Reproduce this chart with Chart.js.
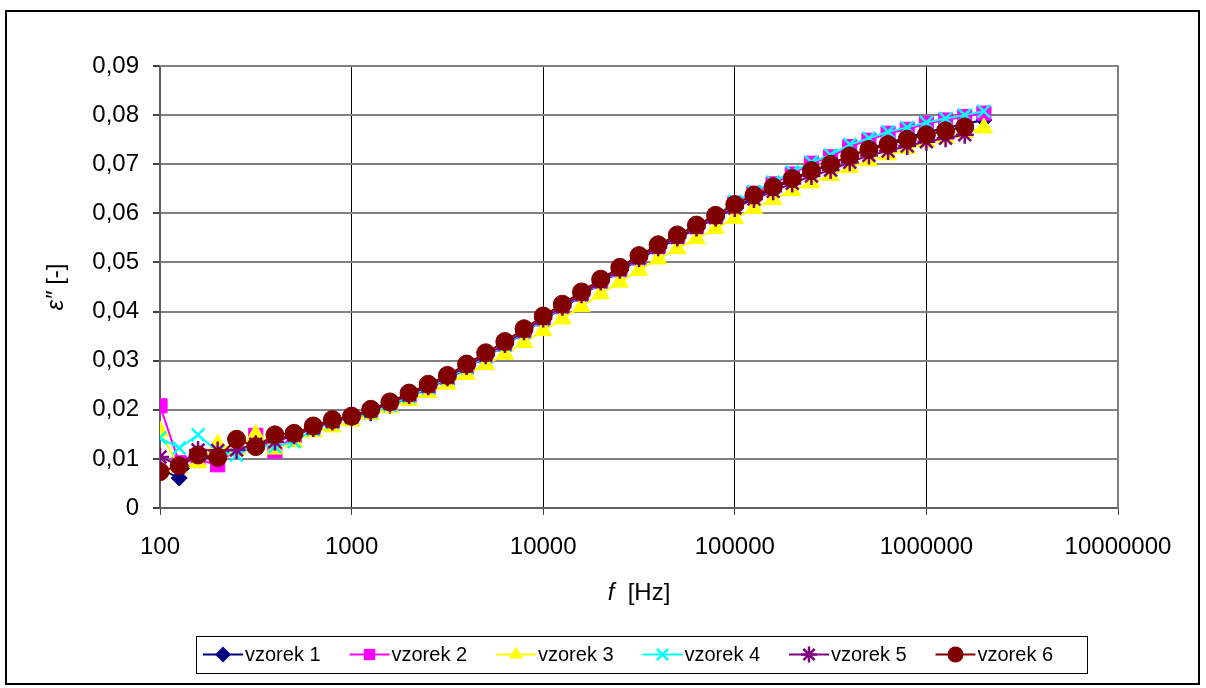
<!DOCTYPE html>
<html>
<head>
<meta charset="utf-8">
<script src="https://cdn.jsdelivr.net/npm/chart.js@4/dist/chart.umd.min.js"></script>
<style>
  html, body { margin: 0; padding: 0; background: #ffffff; }
  #wrap { position: relative; width: 1206px; height: 688px; }
  canvas { display: block; }
</style>
</head>
<body>
<div id="wrap"><canvas id="c" width="1206" height="688"></canvas></div>
<script>
// Measurement frequencies [Hz], ten per decade
const frequencies = [100, 126, 158, 200, 251, 316, 398, 501, 631, 794,
  1000, 1259, 1585, 1995, 2512, 3162, 3981, 5012, 6310, 7943,
  10000, 12589, 15849, 19953, 25119, 31623, 39811, 50119, 63096, 79433,
  100000, 125893, 158489, 199526, 251189, 316228, 398107, 501187, 630957, 794328,
  1000000, 1258925, 1584893, 1995262];

// Loss factor ε'' of each sample
const vzorek1 = [0.0080, 0.0061, 0.0100, 0.0106, 0.0120, 0.0128, 0.0140, 0.0148, 0.0163, 0.0175, 0.0183,
  0.0193, 0.0208, 0.0226, 0.0244, 0.0262, 0.0285, 0.0308, 0.0331, 0.0357, 0.0383, 0.0407, 0.0432, 0.0458,
  0.0482, 0.0506, 0.0528, 0.0549, 0.0569, 0.0591,
  0.0612, 0.0632, 0.0650, 0.0668, 0.0685, 0.0700, 0.0717, 0.0731, 0.0743, 0.0755, 0.0765, 0.0774, 0.0782, 0.0790];
const vzorek2 = [0.0208, 0.0092, 0.0098, 0.0088, 0.0122, 0.0148, 0.0116, 0.0147, 0.0164, 0.0176, 0.0185,
  0.0196, 0.0211, 0.0228, 0.0246, 0.0265, 0.0287, 0.0310, 0.0333, 0.0359, 0.0385, 0.0410, 0.0435, 0.0461,
  0.0485, 0.0509, 0.0532, 0.0553, 0.0573, 0.0594,
  0.0620, 0.0641, 0.0660, 0.0680, 0.0702, 0.0715, 0.0736, 0.0749, 0.0763, 0.0771, 0.0783, 0.0790, 0.0797, 0.0804];
const vzorek3 = [0.0157, 0.0082, 0.0092, 0.0130, 0.0118, 0.0150, 0.0120, 0.0135, 0.0155, 0.0165, 0.0177,
  0.0191, 0.0204, 0.0219, 0.0235, 0.0252, 0.0272, 0.0292, 0.0313, 0.0337, 0.0361, 0.0385, 0.0410, 0.0436,
  0.0460, 0.0484, 0.0507, 0.0528, 0.0548, 0.0569,
  0.0590, 0.0610, 0.0628, 0.0646, 0.0662, 0.0677, 0.0693, 0.0707, 0.0719, 0.0732, 0.0745, 0.0754, 0.0764, 0.0774];
const vzorek4 = [0.0143, 0.0122, 0.0149, 0.0115, 0.0108, 0.0127, 0.0125, 0.0135, 0.0160, 0.0174, 0.0184,
  0.0195, 0.0209, 0.0227, 0.0245, 0.0264, 0.0286, 0.0309, 0.0332, 0.0358, 0.0384, 0.0409, 0.0434, 0.0460,
  0.0484, 0.0508, 0.0531, 0.0552, 0.0572, 0.0594,
  0.0624, 0.0644, 0.0664, 0.0684, 0.0704, 0.0719, 0.0740, 0.0753, 0.0766, 0.0775, 0.0785, 0.0793, 0.0800, 0.0808];
const vzorek5 = [0.0104, 0.0087, 0.0118, 0.0117, 0.0118, 0.0130, 0.0135, 0.0148, 0.0163, 0.0176, 0.0185,
  0.0198, 0.0213, 0.0230, 0.0248, 0.0266, 0.0289, 0.0311, 0.0334, 0.0360, 0.0386, 0.0410, 0.0435, 0.0461,
  0.0485, 0.0509, 0.0531, 0.0551, 0.0571, 0.0591,
  0.0611, 0.0629, 0.0645, 0.0661, 0.0676, 0.0688, 0.0704, 0.0718, 0.0727, 0.0737, 0.0746, 0.0753, 0.0760];
const vzorek6 = [0.0074, 0.0086, 0.0108, 0.0103, 0.0140, 0.0125, 0.0149, 0.0152, 0.0167, 0.0180, 0.0187,
  0.0201, 0.0216, 0.0234, 0.0252, 0.0270, 0.0293, 0.0316, 0.0339, 0.0365, 0.0391, 0.0415, 0.0440, 0.0466,
  0.0490, 0.0514, 0.0536, 0.0556, 0.0576, 0.0596,
  0.0618, 0.0637, 0.0654, 0.0671, 0.0687, 0.0700, 0.0717, 0.0730, 0.0740, 0.0751, 0.0760, 0.0768, 0.0776];

const seriesNames = ['vzorek 1', 'vzorek 2', 'vzorek 3', 'vzorek 4', 'vzorek 5', 'vzorek 6'];
const seriesValues = [vzorek1, vzorek2, vzorek3, vzorek4, vzorek5, vzorek6];

// Axis ticks
const xTickValues = [100, 1000, 10000, 100000, 1000000, 10000000];
const yTickValues = [0, 0.01, 0.02, 0.03, 0.04, 0.05, 0.06, 0.07, 0.08, 0.09];

// Styling per series
const seriesColors = ['#000080', '#FF00FF', '#FFFF00', '#00FFFF', '#800080', '#800000'];
const seriesMarkers = ['rectRot', 'rect', 'triangle', 'crossRot', 'star', 'circle'];
const seriesRadius = [8, 10, 10, 9, 9, 9];

const FONT = '"Liberation Sans", Arial, Helvetica, sans-serif';

const datasets = seriesValues.map((vals, i) => ({
  label: seriesNames[i],
  data: vals.map((v, k) => ({ x: frequencies[k], y: v })),
  borderColor: seriesColors[i],
  backgroundColor: seriesColors[i],
  pointBackgroundColor: seriesColors[i],
  pointBorderColor: seriesColors[i],
  pointStyle: seriesMarkers[i],
  pointRadius: seriesRadius[i],
  pointBorderWidth: (seriesMarkers[i] === 'crossRot' || seriesMarkers[i] === 'star') ? 2.5 : 1,
  borderWidth: 2,
  tension: 0,
  order: 5 - i
}));

// Draws a single marker shape for the legend
function drawMarker(ctx, style, x, y, r, color) {
  ctx.save();
  ctx.fillStyle = color;
  ctx.strokeStyle = color;
  ctx.lineWidth = 2.5;
  ctx.beginPath();
  if (style === 'rectRot') {
    ctx.moveTo(x, y - r); ctx.lineTo(x + r, y); ctx.lineTo(x, y + r); ctx.lineTo(x - r, y); ctx.closePath(); ctx.fill();
  } else if (style === 'rect') {
    const s = r * Math.SQRT1_2;
    ctx.rect(x - s, y - s, 2 * s, 2 * s); ctx.fill();
  } else if (style === 'triangle') {
    ctx.moveTo(x, y - r);
    ctx.lineTo(x + r * Math.sin(Math.PI * 2 / 3), y - r * Math.cos(Math.PI * 2 / 3));
    ctx.lineTo(x - r * Math.sin(Math.PI * 2 / 3), y - r * Math.cos(Math.PI * 2 / 3));
    ctx.closePath(); ctx.fill();
  } else if (style === 'crossRot') {
    const d = r * Math.SQRT1_2;
    ctx.moveTo(x - d, y - d); ctx.lineTo(x + d, y + d);
    ctx.moveTo(x + d, y - d); ctx.lineTo(x - d, y + d); ctx.stroke();
  } else if (style === 'star') {
    const d = r * Math.SQRT1_2;
    ctx.moveTo(x - d, y - d); ctx.lineTo(x + d, y + d);
    ctx.moveTo(x + d, y - d); ctx.lineTo(x - d, y + d);
    ctx.moveTo(x, y - r); ctx.lineTo(x, y + r);
    ctx.moveTo(x - r, y); ctx.lineTo(x + r, y); ctx.stroke();
  } else {
    ctx.arc(x, y, r, 0, Math.PI * 2); ctx.fill();
  }
  ctx.restore();
}

// Outer frame, plot frame, axis titles and legend
const decorations = {
  id: 'decorations',
  beforeDraw(chart) {
    const ctx = chart.ctx;
    ctx.save();
    ctx.fillStyle = '#ffffff';
    ctx.fillRect(0, 0, chart.width, chart.height);
    ctx.strokeStyle = '#000000';
    ctx.lineWidth = 2;
    ctx.strokeRect(6, 11, 1193, 673);
    ctx.restore();
  },
  beforeDatasetsDraw(chart) {
    const ctx = chart.ctx;
    const a = chart.chartArea;
    ctx.save();
    ctx.strokeStyle = '#808080';
    ctx.lineWidth = 2;
    ctx.beginPath();
    ctx.moveTo(a.left, a.top); ctx.lineTo(a.right, a.top); ctx.lineTo(a.right, a.bottom);
    ctx.stroke();
    ctx.restore();
  },
  afterDraw(chart) {
    const ctx = chart.ctx;
    const a = chart.chartArea;
    ctx.save();
    ctx.fillStyle = '#000000';
    ctx.textBaseline = 'middle';

    // x axis title: "f [Hz]"
    const italicF = 'italic 24px ' + FONT;
    const plainF = '24px ' + FONT;
    ctx.font = italicF; const w1 = ctx.measureText('f').width;
    ctx.font = plainF; const w2 = ctx.measureText('  [Hz]').width;
    let x0 = (a.left + a.right) / 2 - (w1 + w2) / 2;
    ctx.textAlign = 'left';
    ctx.font = italicF; ctx.fillText('f', x0, 593);
    ctx.font = plainF; ctx.fillText('  [Hz]', x0 + w1, 593);

    // y axis title: "ε'' [-]"
    ctx.save();
    ctx.translate(56, (a.top + a.bottom) / 2);
    ctx.rotate(-Math.PI / 2);
    ctx.font = italicF; const v1 = ctx.measureText('\u03B5\u2033').width;
    ctx.font = plainF; const v2 = ctx.measureText(' [-]').width;
    const y0 = -(v1 + v2) / 2;
    ctx.font = italicF; ctx.fillText('\u03B5\u2033', y0, 0);
    ctx.font = plainF; ctx.fillText(' [-]', y0 + v1, 0);
    ctx.restore();

    // legend
    const boxL = 196, boxT = 636, boxR = 1087, boxB = 673;
    ctx.strokeStyle = '#000000';
    ctx.lineWidth = 1;
    ctx.strokeRect(boxL + 0.5, boxT + 0.5, boxR - boxL, boxB - boxT);
    ctx.font = '20px ' + FONT;
    const ly = (boxT + boxB) / 2;
    const step = 146.5;
    chart.data.datasets.forEach((ds, i) => {
      const sx = 203 + i * step;
      ctx.strokeStyle = ds.borderColor;
      ctx.lineWidth = 2;
      ctx.beginPath(); ctx.moveTo(sx, ly); ctx.lineTo(sx + 40, ly); ctx.stroke();
      drawMarker(ctx, ds.pointStyle, sx + 20, ly, Math.min(ds.pointRadius, 8), ds.borderColor);
      ctx.fillStyle = '#000000';
      ctx.textAlign = 'left';
      ctx.fillText(ds.label, sx + 42, ly + 1);
    });
    ctx.restore();
  }
};

new Chart(document.getElementById('c'), {
  type: 'line',
  data: { datasets },
  options: {
    responsive: false,
    animation: false,
    devicePixelRatio: 1,
    layout: { padding: { left: 0, top: 66, right: 88, bottom: 0 } },
    plugins: { legend: { display: false }, tooltip: { enabled: false } },
    scales: {
      x: {
        type: 'logarithmic',
        min: 100,
        max: 10000000,
        afterBuildTicks(scale) { scale.ticks = xTickValues.map(v => ({ value: v })); },
        afterFit(scale) { scale.height = 180; },
        ticks: {
          autoSkip: false,
          maxRotation: 0,
          padding: 18,
          color: '#000000',
          font: { family: FONT, size: 24 },
          callback: (v) => String(v)
        },
        grid: { color: '#000000', lineWidth: 1, tickLength: 7, tickColor: '#404040' },
        border: { color: '#606060', width: 2 }
      },
      y: {
        type: 'linear',
        min: 0,
        max: 0.09,
        afterBuildTicks(scale) { scale.ticks = yTickValues.map(v => ({ value: v })); },
        afterFit(scale) { scale.width = 160; },
        ticks: {
          padding: 14,
          color: '#000000',
          font: { family: FONT, size: 24 },
          callback: (v) => v === 0 ? '0' : v.toFixed(2).replace('.', ',')
        },
        grid: { color: '#808080', lineWidth: 2, tickLength: 7, tickColor: '#404040' },
        border: { color: '#606060', width: 2 }
      }
    }
  },
  plugins: [decorations]
});
</script>
</body>
</html>
